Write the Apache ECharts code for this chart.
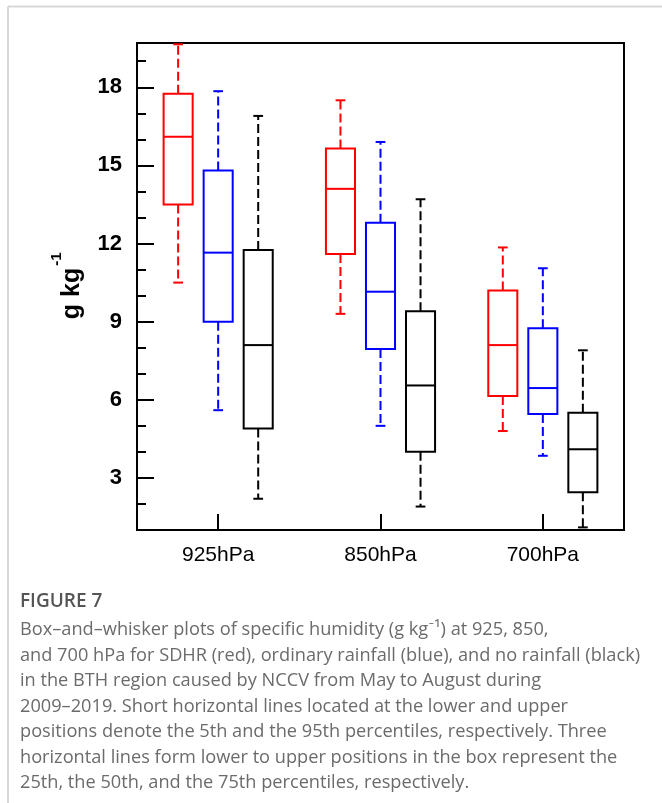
<!DOCTYPE html>
<html>
<head>
<meta charset="utf-8">
<script src="https://cdn.jsdelivr.net/npm/echarts@6/dist/echarts.min.js"></script>
<style>
  html, body { margin: 0; padding: 0; background: #fff; }
  #chart { width: 662px; height: 803px; }
</style>
</head>
<body>
<div id="chart"></div>
<script>
// Pressure levels on the x axis
const categories = ['925hPa', '850hPa', '700hPa'];

// Percentiles per level: [p5, p25, p50, p75, p95] in g kg-1
const sdhr     = [[10.5, 13.5, 16.1, 17.75, 19.65], [9.3, 11.6, 14.1, 15.65, 17.5], [4.8, 6.15, 8.1, 10.2, 11.85]];
const ordinary = [[5.6, 9.0, 11.65, 14.8, 17.85],   [5.0, 7.95, 10.15, 12.8, 15.9], [3.85, 5.45, 6.45, 8.75, 11.05]];
const noRain   = [[2.2, 4.9, 8.1, 11.75, 16.9],     [1.9, 4.0, 6.55, 9.4, 13.7],    [1.1, 2.45, 4.1, 5.5, 7.9]];

// Y axis ticks
const majorTicks = [3, 6, 9, 12, 15, 18];
const minorTicks = [2, 4, 5, 7, 8, 10, 11, 13, 14, 16, 17, 19];

const yMin = 1, yMax = 19.7;

const captionLines = [
  'Box\u2013and\u2013whisker plots of specific humidity (g kg\u207B\u00B9) at 925, 850,',
  'and 700 hPa for SDHR (red), ordinary rainfall (blue), and no rainfall (black)',
  'in the BTH region caused by NCCV from May to August during',
  '2009\u20132019. Short horizontal lines located at the lower and upper',
  'positions denote the 5th and the 95th percentiles, respectively. Three',
  'horizontal lines form lower to upper positions in the box represent the',
  '25th, the 50th, and the 75th percentiles, respectively.'
];

function toItems(arr) {
  return arr.map((v, i) => [i].concat(v));
}

// Box with dashed whiskers and short solid caps
function boxRenderer(color, offsetFrac) {
  return function (params, api) {
    const c = api.value(0);
    const band = api.size([1, 0])[0];
    const x = api.coord([c, 0])[0] + offsetFrac * band;
    const y = [1, 2, 3, 4, 5].map(i => api.coord([c, api.value(i)])[1]);
    const hw = band * 0.179 / 2;
    const cw = band * 0.06 / 2;
    const solid = { stroke: color, lineWidth: 2, fill: null };
    const dashed = { stroke: color, lineWidth: 2, lineDash: [9, 4], fill: null };
    return {
      type: 'group',
      children: [
        { type: 'line', shape: { x1: x, y1: y[1], x2: x, y2: y[0] }, style: dashed },
        { type: 'line', shape: { x1: x, y1: y[3], x2: x, y2: y[4] }, style: dashed },
        { type: 'line', shape: { x1: x - cw, y1: y[0], x2: x + cw, y2: y[0] }, style: solid },
        { type: 'line', shape: { x1: x - cw, y1: y[4], x2: x + cw, y2: y[4] }, style: solid },
        { type: 'rect', shape: { x: x - hw, y: y[3], width: 2 * hw, height: y[1] - y[3] }, style: solid },
        { type: 'line', shape: { x1: x - hw, y1: y[2], x2: x + hw, y2: y[2] }, style: solid }
      ]
    };
  };
}

const chart = echarts.init(document.getElementById('chart'), null, { renderer: 'canvas' });

const captionFont = '"Open Sans", Lato, sans-serif';

const graphics = [
  // figure frame
  { type: 'line', shape: { x1: 8, y1: 6.5, x2: 662, y2: 6.5 }, style: { stroke: '#d8d8d8', lineWidth: 2 } },
  { type: 'line', shape: { x1: 8, y1: 6.5, x2: 8, y2: 803 }, style: { stroke: '#d8d8d8', lineWidth: 2 } },
  // y axis title
  { type: 'text', x: 72, y: 293.5, rotation: Math.PI / 2,
    style: { text: 'g kg', font: 'bold 25px "Liberation Sans", Arial, sans-serif', fill: '#000', align: 'center', verticalAlign: 'middle' } },
  { type: 'text', x: 57, y: 259, rotation: Math.PI / 2,
    style: { text: '-1', font: 'bold 15px "Liberation Sans", Arial, sans-serif', fill: '#000', align: 'center', verticalAlign: 'middle' } },
  // caption
  { type: 'text', x: 20, y: 602,
    style: { text: 'FIGURE 7', font: '600 19px ' + captionFont, fill: '#555555', align: 'left', verticalAlign: 'middle' } }
];
captionLines.forEach((t, i) => {
  graphics.push({ type: 'text', x: 20, y: 630 + i * 25.5,
    style: { text: t, font: '18.2px ' + captionFont, fill: '#6b6b6b', align: 'left', verticalAlign: 'middle' } });
});

const option = {
  backgroundColor: '#ffffff',
  animation: false,
  grid: { left: 137, top: 43, width: 487, height: 487, show: true, borderColor: '#000', borderWidth: 2, backgroundColor: 'transparent' },
  xAxis: {
    type: 'category',
    data: categories,
    axisLine: { show: true, lineStyle: { color: '#000', width: 2 } },
    axisTick: { show: true, inside: true, length: 16, alignWithLabel: true, lineStyle: { color: '#000', width: 2 } },
    axisLabel: { color: '#000', fontSize: 21, fontFamily: '"Liberation Sans", Arial, sans-serif', margin: 15 },
    splitLine: { show: false }
  },
  yAxis: [
    {
      type: 'value', min: yMin, max: yMax,
      axisLine: { show: true, lineStyle: { color: '#000', width: 2 } },
      axisTick: { show: true, inside: true, length: 17, customValues: majorTicks, lineStyle: { color: '#000', width: 2 } },
      axisLabel: { show: true, customValues: majorTicks, color: '#000', fontSize: 22, fontWeight: 'bold', fontFamily: '"Liberation Sans", Arial, sans-serif', margin: 15 },
      splitLine: { show: false }
    },
    {
      type: 'value', min: yMin, max: yMax, position: 'left',
      axisLine: { show: false },
      axisTick: { show: true, inside: true, length: 9, customValues: minorTicks, lineStyle: { color: '#000', width: 2 } },
      axisLabel: { show: false },
      splitLine: { show: false }
    }
  ],
  series: [
    { name: 'SDHR', type: 'custom', renderItem: boxRenderer('#ff0000', -0.2466), data: toItems(sdhr), encode: { x: 0, y: [1, 2, 3, 4, 5] }, clip: false },
    { name: 'Ordinary rainfall', type: 'custom', renderItem: boxRenderer('#0000ff', 0), data: toItems(ordinary), encode: { x: 0, y: [1, 2, 3, 4, 5] }, clip: false },
    { name: 'No rainfall', type: 'custom', renderItem: boxRenderer('#000000', 0.2466), data: toItems(noRain), encode: { x: 0, y: [1, 2, 3, 4, 5] }, clip: false }
  ],
  graphic: graphics
};

chart.setOption(option);
</script>
</body>
</html>
